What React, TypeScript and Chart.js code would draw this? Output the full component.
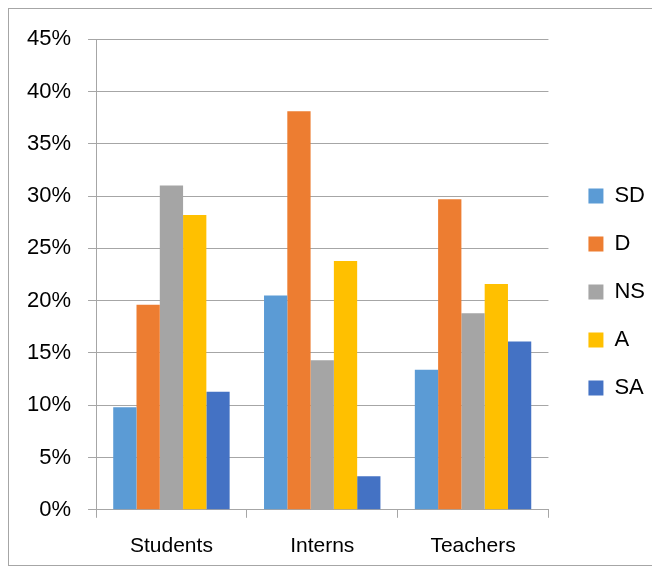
import React, { useEffect, useRef } from "react";
import { Chart, registerables } from "chart.js";

Chart.register(...registerables);

const categories = ["Students", "Interns", "Teachers"];
const seriesNames = ["SD", "D", "NS", "A", "SA"];
const sdValues = [9.8, 20.5, 13.4];
const dValues = [19.6, 38.1, 29.7];
const nsValues = [31.0, 14.3, 18.8];
const aValues = [28.2, 23.8, 21.6];
const saValues = [11.3, 3.2, 16.1];
const seriesColors = ["#5B9BD5", "#ED7D31", "#A5A5A5", "#FFC000", "#4472C4"];
const yTicks = [0, 5, 10, 15, 20, 25, 30, 35, 40, 45];

const legendShift = {
  id: "legendShift",
  afterLayout(chart: any) {
    if (chart.legend) {
      chart.legend.left += 14;
      chart.legend.right += 14;
      chart.legend.top -= 7;
      chart.legend.bottom -= 7;
    }
  },
};

export default function App() {
  const ref = useRef<HTMLCanvasElement | null>(null);
  useEffect(() => {
    if (!ref.current) return;
    const values = [sdValues, dValues, nsValues, aValues, saValues];
    const family = "'Liberation Sans', Arial, sans-serif";
    const xFont = { family, size: 21 };
    const yFont = { family, size: 22 };
    const chart = new Chart(ref.current, {
      type: "bar",
      data: {
        labels: categories,
        datasets: seriesNames.map((name, i) => ({
          label: name,
          data: values[i],
          backgroundColor: seriesColors[i],
          borderWidth: 0,
          barPercentage: 1,
          categoryPercentage: 0.772,
        })),
      },
      plugins: [legendShift],
      options: {
        animation: false,
        responsive: false,
        maintainAspectRatio: false,
        layout: { padding: { left: 1, top: 14, bottom: -10, right: 12 } },
        plugins: {
          tooltip: { enabled: false },
          legend: {
            position: "right",
            labels: {
              font: yFont,
              color: "#000",
              boxWidth: 15,
              boxHeight: 15,
              padding: 26,
            },
          },
        },
        scales: {
          x: {
            offset: true,
            grid: {
              offset: true,
              drawOnChartArea: false,
              drawTicks: true,
              tickLength: 8,
              color: "#A6A6A6",
            },
            border: { color: "#A6A6A6" },
            ticks: { font: xFont, color: "#000", padding: 16 },
          },
          y: {
            min: 0,
            max: 45,
            afterBuildTicks: (axis: any) => {
              axis.ticks = yTicks.map((v) => ({ value: v }));
            },
            grid: { color: "#A6A6A6", tickLength: 8 },
            border: { color: "#A6A6A6" },
            ticks: {
              font: yFont,
              color: "#000",
              padding: 17,
              callback: (v: any) => v + "%",
            },
          },
        },
      },
    });
    return () => chart.destroy();
  }, []);
  return (
    <div style={{ width: 644, height: 556, border: "1px solid #A6A6A6", background: "#fff" }}>
      <canvas ref={ref} width={644} height={556} style={{ display: "block" }} />
    </div>
  );
}
